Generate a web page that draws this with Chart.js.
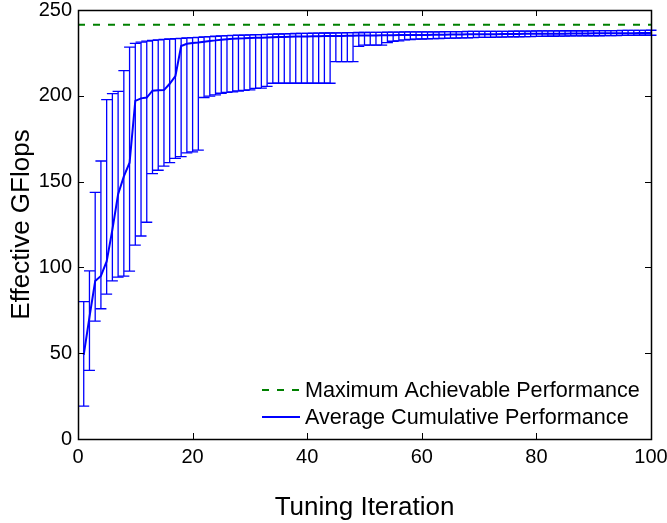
<!DOCTYPE html>
<html>
<head>
<meta charset="utf-8">
<script src="https://cdn.jsdelivr.net/npm/chart.js@4"></script>
<style>
  html, body { margin: 0; padding: 0; background: #fff; }
  #chart { display: block; }
</style>
</head>
<body>
<canvas id="chart" width="667" height="523"></canvas>
<script>
// tuning iterations 1..100
const iterations = Array.from({ length: 100 }, (_, i) => i + 1);

const meanPerf = [
  49, 71, 92, 95, 103.5, 122, 142.6, 153, 161, 197,
  198.5, 199, 203, 203.2, 203.3, 207, 211.5, 229, 230.3, 230.7,
  231, 231.5, 232, 232.3, 232.7, 233, 233.2, 233.4, 233.5, 233.7,
  233.8, 233.9, 234, 234.1, 234.2, 234.3, 234.4, 234.5, 234.6, 234.6,
  234.7, 234.7, 234.8, 234.8, 234.9, 234.9, 235, 235, 235.1, 235.1,
  235.2, 235.2, 235.3, 235.3, 235.3, 235.4, 235.4, 235.4, 235.5, 235.5,
  235.5, 235.6, 235.6, 235.6, 235.7, 235.7, 235.7, 235.8, 235.8, 235.8,
  235.9, 235.9, 235.9, 236, 236, 236, 236, 236.1, 236.1, 236.1,
  236.1, 236.2, 236.2, 236.2, 236.2, 236.3, 236.3, 236.3, 236.3, 236.4,
  236.4, 236.4, 236.4, 236.5, 236.5, 236.5, 236.5, 236.6, 236.6, 236.6
];

const upperPerf = [
  80, 98, 143.7, 162, 197.8, 201.3, 202.6, 214.7, 228.4, 230.5,
  231.3, 231.9, 232.3, 232.6, 232.9, 233.1, 233.3, 233.5, 233.7, 233.9,
  234.1, 234.3, 234.5, 234.7, 234.9, 235.1, 235.2, 235.3, 235.4, 235.5,
  235.6, 235.7, 235.8, 235.9, 236, 236.1, 236.2, 236.3, 236.4, 236.4,
  236.5, 236.5, 236.6, 236.6, 236.7, 236.7, 236.8, 236.8, 236.9, 236.9,
  237, 237, 237, 237.1, 237.1, 237.1, 237.2, 237.2, 237.2, 237.3,
  237.3, 237.3, 237.3, 237.4, 237.4, 237.4, 237.4, 237.5, 237.5, 237.5,
  237.5, 237.6, 237.6, 237.6, 237.6, 237.7, 237.7, 237.7, 237.7, 237.8,
  237.8, 237.8, 237.8, 237.8, 237.9, 237.9, 237.9, 237.9, 237.9, 238,
  238, 238, 238, 238, 238.1, 238.1, 238.1, 238.1, 238.1, 238.2
];

const lowerPerf = [
  19.2, 40, 68.7, 75.9, 84.4, 92.2, 94.3, 94.9, 97.8, 113,
  118.3, 126.3, 154.7, 156.6, 159, 161, 163.5, 164.5, 166.7, 167.3,
  168.4, 199, 199.8, 200.5, 201.5, 202, 202.3, 202.8, 203.2, 203.5,
  204.3, 204.5, 205.5, 207.3, 207.3, 207.3, 207.3, 207.3, 207.3, 207.3,
  207.3, 207.3, 207.3, 207.3, 219.9, 219.9, 219.9, 219.9, 228.8, 229.5,
  229.5, 229.5, 229.5, 231, 231.8, 232, 232.6, 232.8, 233, 233.1,
  233.2, 233.3, 233.4, 233.5, 233.6, 233.6, 233.7, 233.8, 233.9, 234,
  234, 234.1, 234.2, 234.2, 234.3, 234.4, 234.4, 234.5, 234.5, 234.6,
  234.6, 234.7, 234.7, 234.8, 234.8, 234.9, 234.9, 234.9, 235, 235,
  235, 235.1, 235.1, 235.1, 235.2, 235.2, 235.2, 235.3, 235.3, 235.3
];

const maxPerfX = [0, 100];
const maxPerfY = [241.4, 241.4];

const legendLabels = ['Maximum Achievable Performance', 'Average Cumulative Performance'];

const FONT = "'Liberation Sans', Arial, sans-serif";
const BLUE = '#0000ff';
const GREEN = '#008000';

// error bars with caps, drawn under the mean line
const errorBars = {
  id: 'errorBars',
  beforeDatasetsDraw(chart) {
    const { ctx, scales: { x, y } } = chart;
    ctx.save();
    ctx.strokeStyle = BLUE;
    ctx.lineWidth = 1.3;
    const cap = 5.5;
    iterations.forEach((it, i) => {
      const px = x.getPixelForValue(it);
      const top = y.getPixelForValue(upperPerf[i]);
      const bot = y.getPixelForValue(lowerPerf[i]);
      ctx.beginPath();
      ctx.moveTo(px, top);
      ctx.lineTo(px, bot);
      ctx.moveTo(px - cap, top);
      ctx.lineTo(px + cap, top);
      ctx.moveTo(px - cap, bot);
      ctx.lineTo(px + cap, bot);
      ctx.stroke();
    });
    ctx.restore();
  }
};

// box around plot + inward ticks on all four sides
const frameTicks = {
  id: 'frameTicks',
  afterDraw(chart) {
    const { ctx, chartArea: a, scales: { x, y } } = chart;
    const len = 6;
    ctx.save();
    ctx.strokeStyle = '#000';
    ctx.lineWidth = 1;
    ctx.beginPath();
    x.ticks.forEach(t => {
      const px = Math.round(x.getPixelForValue(t.value)) + 0.5;
      ctx.moveTo(px, a.bottom); ctx.lineTo(px, a.bottom - len);
      ctx.moveTo(px, a.top); ctx.lineTo(px, a.top + len);
    });
    y.ticks.forEach(t => {
      const py = Math.round(y.getPixelForValue(t.value)) + 0.5;
      ctx.moveTo(a.left, py); ctx.lineTo(a.left + len, py);
      ctx.moveTo(a.right, py); ctx.lineTo(a.right - len, py);
    });
    ctx.stroke();
    ctx.lineWidth = 1.5;
    ctx.strokeRect(Math.round(a.left) + 0.5, Math.round(a.top) + 0.5,
      Math.round(a.right - a.left), Math.round(a.bottom - a.top));
    ctx.restore();
  }
};

// legend inside the plot, bottom right, no box
const insideLegend = {
  id: 'insideLegend',
  afterDraw(chart) {
    const { ctx, chartArea: a } = chart;
    const sets = chart.data.datasets;
    ctx.save();
    ctx.font = `21.6px ${FONT}`;
    ctx.textBaseline = 'middle';
    ctx.fillStyle = '#000';
    const rows = [a.bottom - 49, a.bottom - 22];
    const lineX0 = 262, lineX1 = 300, textX = 305;
    sets.forEach((ds, i) => {
      const yy = rows[i];
      ctx.strokeStyle = ds.borderColor;
      ctx.lineWidth = ds.borderWidth;
      ctx.setLineDash(ds.borderDash || []);
      ctx.beginPath();
      ctx.moveTo(lineX0, yy);
      ctx.lineTo(lineX1, yy);
      ctx.stroke();
      ctx.setLineDash([]);
      ctx.fillText(ds.label, textX, yy + 1);
    });
    ctx.restore();
  }
};

new Chart(document.getElementById('chart').getContext('2d'), {
  type: 'line',
  data: {
    datasets: [
      {
        label: legendLabels[0],
        data: maxPerfX.map((v, i) => ({ x: v, y: maxPerfY[i] })),
        borderColor: GREEN,
        borderWidth: 2,
        borderDash: [7, 8],
        pointRadius: 0,
        order: 2
      },
      {
        label: legendLabels[1],
        data: iterations.map((v, i) => ({ x: v, y: meanPerf[i] })),
        borderColor: BLUE,
        borderWidth: 2,
        pointRadius: 0,
        tension: 0,
        order: 1
      }
    ]
  },
  options: {
    responsive: false,
    animation: false,
    devicePixelRatio: 1,
    layout: { padding: { top: 10, right: 16, left: 0, bottom: 0 } },
    plugins: {
      legend: { display: false },
      tooltip: { enabled: false }
    },
    scales: {
      x: {
        type: 'linear',
        min: 0,
        max: 100,
        grid: { display: false, drawTicks: false },
        border: { display: false },
        ticks: { stepSize: 20, color: '#000', padding: 6, font: { family: FONT, size: 20 } },
        title: { display: true, text: 'Tuning Iteration', color: '#000', padding: 0, font: { family: FONT, size: 26 } },
        afterFit: s => { s.height = 84; s.paddingLeft = 0; s.paddingRight = 0; }
      },
      y: {
        min: 0,
        max: 250,
        grid: { display: false, drawTicks: false },
        border: { display: false },
        ticks: { stepSize: 50, color: '#000', padding: 6, font: { family: FONT, size: 20 } },
        title: { display: true, text: 'Effective GFlops', color: '#000', padding: { top: 6, bottom: 0 }, font: { family: FONT, size: 26 } },
        afterFit: s => { s.width = 78; s.paddingTop = 0; s.paddingBottom = 0; }
      }
    }
  },
  plugins: [errorBars, frameTicks, insideLegend]
});
</script>
</body>
</html>
